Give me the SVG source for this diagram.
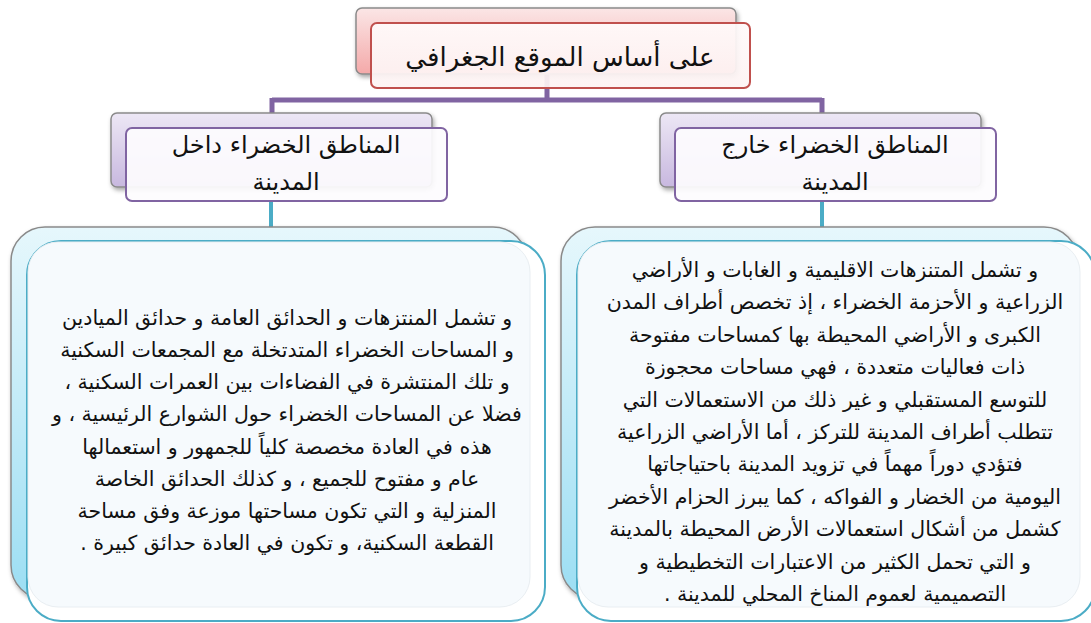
<svg xmlns="http://www.w3.org/2000/svg" width="1091" height="623" viewBox="0 0 1091 623">
<defs>
<linearGradient id="gPink" x1="0" y1="0" x2="0" y2="1"><stop offset="0" stop-color="#fbe6e6"/><stop offset="1" stop-color="#f4a9a9"/></linearGradient>
<linearGradient id="gLav" x1="0" y1="0" x2="0" y2="1"><stop offset="0" stop-color="#ede7f5"/><stop offset="1" stop-color="#c8b8df"/></linearGradient>
<linearGradient id="gCyan" x1="0" y1="0" x2="0" y2="1"><stop offset="0" stop-color="#e6f7fc"/><stop offset="1" stop-color="#9cdef3"/></linearGradient>
<linearGradient id="gFrontR" x1="0" y1="0" x2="0" y2="1"><stop offset="0" stop-color="#fffafa"/><stop offset="1" stop-color="#fdf3f3"/></linearGradient>
<filter id="sh" x="-10%" y="-10%" width="120%" height="130%"><feDropShadow dx="1.5" dy="2.5" stdDeviation="2" flood-color="#000" flood-opacity="0.35"/></filter>
</defs>
<style>
.back{stroke:#8a8a8a;stroke-width:1.5;filter:url(#sh)}
.fr-red{fill:url(#gFrontR);stroke:#c0504d;stroke-width:2;fill-opacity:0.93}
.fr-pur{fill:#fdfcfe;stroke:#8064a2;stroke-width:2;fill-opacity:0.93}
.fr-teal{fill:#ffffff;stroke:#4bacc6;stroke-width:2}
.inner{fill:#f6fafd;stroke:#e9eef2;stroke-width:1}
.t{font-family:"DejaVu Sans",sans-serif;fill:#111111;text-anchor:middle;direction:rtl}
.root{font-size:26px}
.title{font-size:24px}
.body{font-size:20.5px}
.purp{stroke:#8064a2;stroke-width:5;fill:none}
.teal{stroke:#4bacc6;stroke-width:4;fill:none}
</style>
<rect width="1091" height="623" fill="#ffffff"/>
<g id="connectors">
<path class="purp" d="M547 70 V100 M272 100 H822 M272 98 V116 M822 98 V116"/>
<path class="teal" d="M271 200 V230 M822 200 V230"/>
</g>
<g id="node-root">
<rect class="back" x="356" y="8" width="380" height="66" rx="6" fill="url(#gPink)"/>
<rect class="fr-red" x="371" y="23" width="379" height="65" rx="6"/>
<text class="t root" x="560" y="66">على أساس الموقع الجغرافي</text>
</g>
<g id="node-inside">
<rect class="back" x="111" y="113" width="321" height="74" rx="6" fill="url(#gLav)"/>
<rect class="fr-pur" x="126" y="128" width="321" height="73" rx="6"/>
<text class="t title" x="286" y="153">المناطق الخضراء داخل</text>
<text class="t title" x="286" y="190">المدينة</text>
</g>
<g id="node-outside">
<rect class="back" x="660" y="113" width="321" height="74" rx="6" fill="url(#gLav)"/>
<rect class="fr-pur" x="675" y="128" width="321" height="73" rx="6"/>
<text class="t title" x="835" y="153">المناطق الخضراء خارج</text>
<text class="t title" x="835" y="190">المدينة</text>
</g>
<g id="node-inside-desc">
<rect class="back" x="11" y="227" width="516" height="372" rx="34" fill="url(#gCyan)"/>
<rect class="fr-teal" x="27" y="241" width="518" height="380" rx="34"/>
<rect class="inner" x="28" y="242" width="502" height="365" rx="30"/>
<text class="t body" x="287" y="325">و تشمل المنتزهات و الحدائق العامة و حدائق الميادين</text>
<text class="t body" x="287" y="357">و المساحات الخضراء المتدتخلة مع المجمعات السكنية</text>
<text class="t body" x="287" y="389">و تلك المنتشرة في الفضاءات بين العمرات السكنية ،</text>
<text class="t body" x="287" y="421">فضلا عن المساحات الخضراء حول الشوارع الرئيسية ، و</text>
<text class="t body" x="287" y="454">هذه في العادة مخصصة كلياً للجمهور و استعمالها</text>
<text class="t body" x="287" y="486">عام و مفتوح للجميع ، و كذلك الحدائق الخاصة</text>
<text class="t body" x="287" y="518">المنزلية و التي تكون مساحتها موزعة وفق مساحة</text>
<text class="t body" x="287" y="550">القطعة السكنية، و تكون في العادة حدائق كبيرة  .</text>
</g>
<g id="node-outside-desc">
<rect class="back" x="561" y="227" width="517" height="372" rx="34" fill="url(#gCyan)"/>
<rect class="fr-teal" x="577" y="241" width="518" height="380" rx="34"/>
<rect class="inner" x="578" y="242" width="502" height="365" rx="30"/>
<text class="t body" x="835" y="277">و تشمل المتنزهات الاقليمية و الغابات و الأراضي</text>
<text class="t body" x="835" y="309">الزراعية و الأحزمة الخضراء ، إذ تخصص أطراف المدن</text>
<text class="t body" x="835" y="342">الكبرى و الأراضي المحيطة بها كمساحات مفتوحة</text>
<text class="t body" x="835" y="374">ذات فعاليات متعددة ، فهي مساحات محجوزة</text>
<text class="t body" x="835" y="407">للتوسع المستقبلي و غير ذلك من الاستعمالات التي</text>
<text class="t body" x="835" y="439">تتطلب أطراف المدينة للتركز ، أما الأراضي الزراعية</text>
<text class="t body" x="835" y="471">فتؤدي دوراً مهماً في تزويد المدينة باحتياجاتها</text>
<text class="t body" x="835" y="504">اليومية من الخضار و الفواكه ، كما يبرز الحزام الأخضر</text>
<text class="t body" x="835" y="536">كشمل من أشكال استعمالات الأرض المحيطة بالمدينة</text>
<text class="t body" x="835" y="569">و التي تحمل الكثير من الاعتبارات التخطيطية و</text>
<text class="t body" x="835" y="601">التصميمية لعموم المناخ المحلي للمدينة .</text>
</g>
</svg>
